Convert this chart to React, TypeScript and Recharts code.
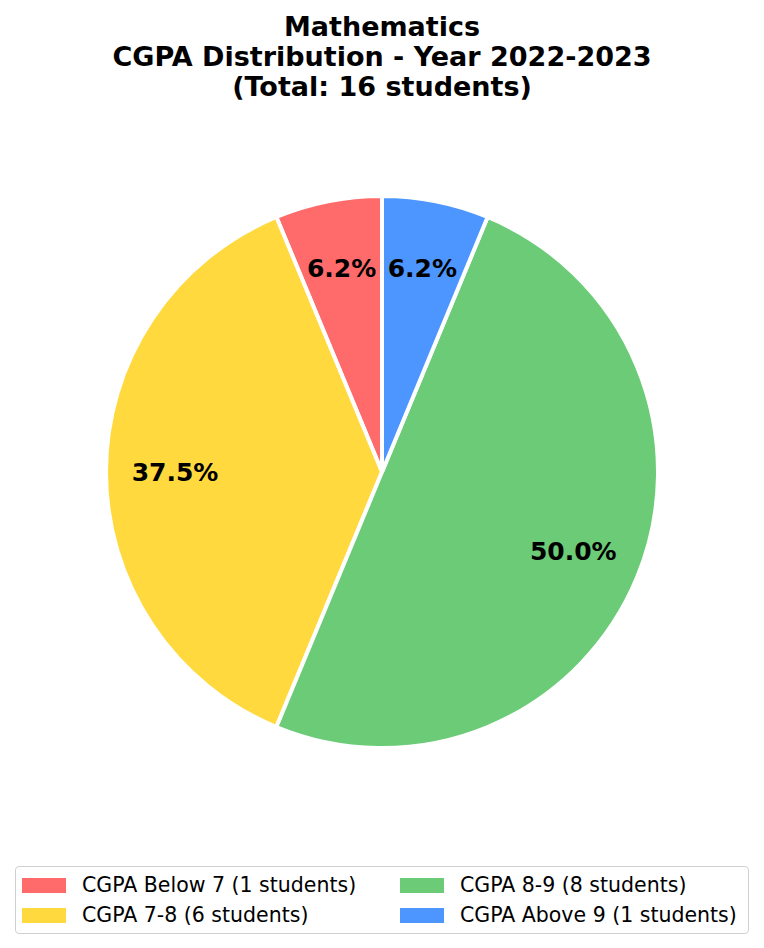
import React from "react";
import { PieChart, Pie, Cell } from "recharts";

const categories = ["CGPA Below 7", "CGPA 7-8", "CGPA 8-9", "CGPA Above 9"];
const studentCounts = [1, 6, 8, 1];
const colors = ["#FF6B6B", "#FFD93D", "#6BCB77", "#4D96FF"];
const titleLines = ["Mathematics", "CGPA Distribution - Year 2022-2023", "(Total: 16 students)"];

const FONT = "'DejaVu Sans', sans-serif";
const RADIAN = Math.PI / 180;

// python-style "%1.1f" (round half to even)
function fmtPct(p: number) {
	const v = p * 1000;
	let r = Math.round(v);
	if (Math.abs(v - Math.trunc(v) - 0.5) < 1e-9 && r % 2 === 1) r -= 1;
	return (r / 10).toFixed(1) + "%";
}

const data = categories.map((name, i) => ({
	name,
	value: studentCounts[i],
	legendLabel: `${name} (${studentCounts[i]} students)`,
}));

const renderLabel = (props: any) => {
	const { cx, cy, midAngle, outerRadius, percent } = props;
	const r = outerRadius * 0.75;
	const x = cx + r * Math.cos(-midAngle * RADIAN);
	const y = cy + r * Math.sin(-midAngle * RADIAN);
	return (
		<text x={x} y={y} textAnchor="middle" dominantBaseline="central"
			style={{ fontFamily: FONT, fontSize: 25, fontWeight: "bold", fill: "#000" }}>
			{fmtPct(percent)}
		</text>
	);
};

function ChartLegend() {
	return (
		<div style={{
			position: "absolute", left: 15, top: 866, width: 732, height: 63,
			border: "1.5px solid #d0d0d0", borderRadius: 4, background: "#fff",
			display: "grid", gridTemplateColumns: "378px 352px", gridTemplateRows: "30px 30px",
			gridAutoFlow: "column", paddingTop: 3, boxSizing: "content-box",
			fontFamily: FONT, fontSize: 20.5, color: "#000",
		}}>
			{data.map((d, i) => (
				<div key={d.name} style={{ display: "flex", alignItems: "center", paddingLeft: 6 }}>
					<span style={{ width: 44, height: 15, background: colors[i], display: "inline-block", marginRight: 16, flexShrink: 0 }} />
					<span style={{ whiteSpace: "nowrap" }}>{d.legendLabel}</span>
				</div>
			))}
		</div>
	);
}

export default function App() {
	return (
		<div style={{ position: "absolute", left: 0, top: 0, width: 764, height: 948, background: "#fff" }}>
			<div style={{
				position: "absolute", left: 0, top: 12, width: 764, textAlign: "center",
				fontFamily: FONT, fontSize: 27, fontWeight: "bold", lineHeight: "30px", color: "#000",
			}}>
				{titleLines.map(t => <div key={t}>{t}</div>)}
			</div>
			<PieChart width={764} height={948} margin={{ top: 0, right: 0, bottom: 0, left: 0 }}
				style={{ position: "absolute", left: 0, top: 0 }}>
				<Pie
					data={data}
					dataKey="value"
					nameKey="name"
					cx={382}
					cy={472}
					outerRadius={276}
					startAngle={90}
					endAngle={450}
					stroke="#ffffff"
					strokeWidth={4}
					label={renderLabel}
					labelLine={false}
					isAnimationActive={false}
				>
					{data.map((d, i) => <Cell key={d.name} fill={colors[i]} />)}
				</Pie>
			</PieChart>
			<ChartLegend />
		</div>
	);
}
